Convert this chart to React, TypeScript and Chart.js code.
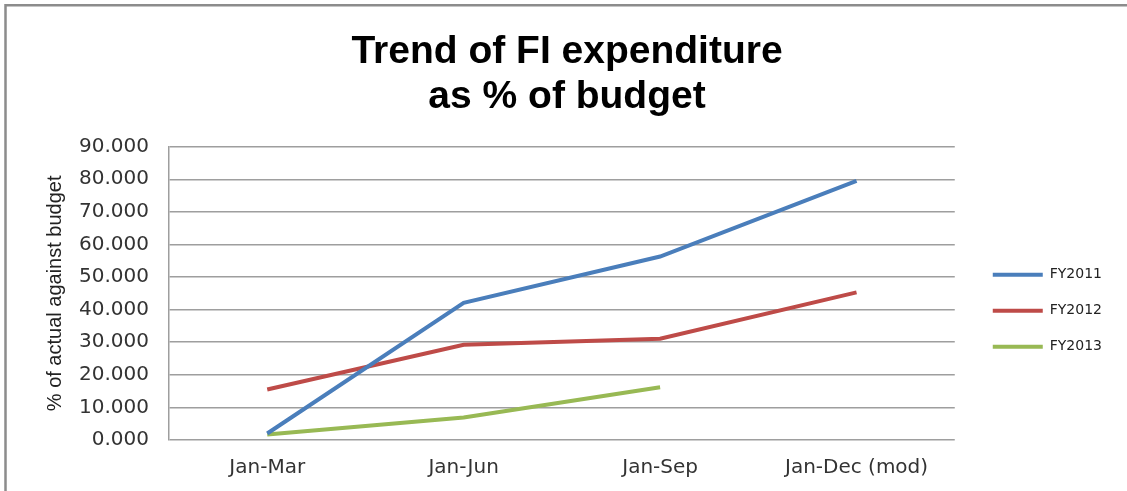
import React, { useEffect, useRef } from "react";
import { Chart, registerables } from "chart.js";

Chart.register(...registerables);

const categories = ["Jan-Mar", "Jan-Jun", "Jan-Sep", "Jan-Dec (mod)"];
const fy2011 = [2.0, 42.1, 56.3, 79.5];
const fy2012 = [15.5, 29.2, 31.1, 45.3];
const fy2013 = [1.7, 6.9, 16.2];
const seriesNames = ["FY2011", "FY2012", "FY2013"];
const yTicks = { min: 0, max: 90, step: 10 };
const titleLines = ["Trend of FI expenditure", "as % of budget"];
const yTitle = "% of actual against budget";

const frame = {
  id: "frame",
  beforeDraw(chart: any) {
    const ctx = chart.ctx;
    ctx.save();
    ctx.fillStyle = "#ffffff";
    ctx.fillRect(0, 0, chart.width, chart.height);
    ctx.strokeStyle = "#8c8c8c";
    ctx.lineWidth = 2.5;
    ctx.beginPath();
    ctx.moveTo(5.5, chart.height);
    ctx.lineTo(5.5, 5.3);
    ctx.lineTo(chart.width, 5.3);
    ctx.stroke();
    ctx.restore();
  },
};

const boxShift = {
  id: "boxShift",
  afterLayout(chart: any) {
    const lg = chart.legend;
    if (lg) {
      lg.left += 16;
      lg.right += 16;
      lg.top += 99;
      lg.bottom += 99;
    }
    const tb = chart.titleBlock;
    if (tb) {
      tb.left += 19;
      tb.right += 19;
    }
  },
};

export default function App() {
  const ref = useRef<HTMLCanvasElement>(null);
  useEffect(() => {
    if (!ref.current) return;
    const tickFont = { family: "'DejaVu Sans'", size: 20 };
    const chart = new Chart(ref.current, {
      type: "line",
      data: {
        labels: categories,
        datasets: [
          { label: seriesNames[0], data: fy2011, borderColor: "#4A7EBB", backgroundColor: "#4A7EBB" },
          { label: seriesNames[1], data: fy2012, borderColor: "#BE4B48", backgroundColor: "#BE4B48" },
          { label: seriesNames[2], data: fy2013, borderColor: "#98B954", backgroundColor: "#98B954" },
        ].map((d) => ({ ...d, borderWidth: 4, pointRadius: 0, tension: 0, fill: false })),
      },
      options: {
        responsive: false,
        animation: false,
        layout: { padding: { left: 0, right: 31, top: 0, bottom: 0 } },
        plugins: {
          title: {
            display: true,
            text: titleLines,
            color: "#000",
            font: { family: "'Liberation Sans'", size: 39, weight: "bold", lineHeight: 1.15 },
            padding: { top: 30, bottom: 27 },
          },
          legend: {
            position: "right",
            align: "start",
            fullSize: false,
            labels: {
              boxWidth: 50,
              boxHeight: 4,
              padding: 22,
              color: "#222",
              font: { family: "'DejaVu Sans'", size: 14 },
              generateLabels(c: any) {
                const items = (Chart as any).defaults.plugins.legend.labels.generateLabels(c);
                return items.map((it: any) => ({ ...it, lineWidth: 0, fillStyle: it.strokeStyle }));
              },
            },
          },
          tooltip: { enabled: false },
        },
        scales: {
          x: {
            offset: true,
            grid: { display: false, drawTicks: false },
            border: { display: false },
            ticks: { color: "#333", font: tickFont, padding: 16, maxRotation: 0 },
            afterFit(scale: any) {
              scale.height = 51;
            },
          },
          y: {
            min: yTicks.min,
            max: yTicks.max,
            grid: { color: "#9e9e9e", lineWidth: 1.5, drawTicks: false },
            border: { display: true, color: "#9e9e9e", width: 1.5 },
            ticks: {
              stepSize: yTicks.step,
              color: "#333",
              font: tickFont,
              padding: 20,
              callback: (v: any) => Number(v).toFixed(3),
            },
            title: {
              display: true,
              text: yTitle,
              color: "#222",
              font: { family: "'Liberation Sans'", size: 20 },
              padding: { top: 43, bottom: 0 },
            },
            afterFit(scale: any) {
              scale.width = 169;
            },
          },
        },
      },
      plugins: [frame, boxShift],
    } as any);
    return () => chart.destroy();
  }, []);
  return (
    <div style={{ position: "absolute", left: 0, top: 0, width: 1127, height: 491, background: "#fff" }}>
      <canvas ref={ref} width={1127} height={491} style={{ display: "block" }} />
    </div>
  );
}
